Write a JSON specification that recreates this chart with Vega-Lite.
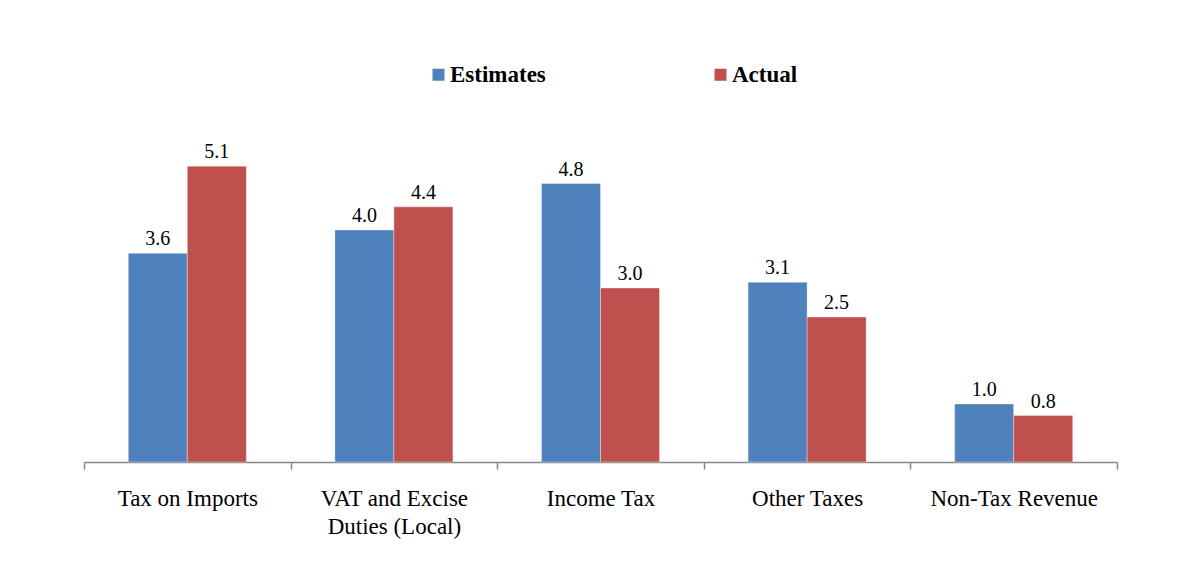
{
  "$schema": "https://vega.github.io/schema/vega-lite/v6.json",
  "width": 1033,
  "height": 348,
  "autosize": {"type": "none"},
  "padding": {"left": 84, "top": 114, "right": 78, "bottom": 117},
  "background": "white",
  "config": {"view": {"stroke": null}},
  "data": {
    "values": [
      {"category": "Tax on Imports", "series": "Estimates", "value": 3.6},
      {"category": "Tax on Imports", "series": "Actual", "value": 5.1},
      {"category": "VAT and Excise Duties (Local)", "series": "Estimates", "value": 4.0},
      {"category": "VAT and Excise Duties (Local)", "series": "Actual", "value": 4.4},
      {"category": "Income Tax", "series": "Estimates", "value": 4.8},
      {"category": "Income Tax", "series": "Actual", "value": 3.0},
      {"category": "Other Taxes", "series": "Estimates", "value": 3.1},
      {"category": "Other Taxes", "series": "Actual", "value": 2.5},
      {"category": "Non-Tax Revenue", "series": "Estimates", "value": 1.0},
      {"category": "Non-Tax Revenue", "series": "Actual", "value": 0.8}
    ]
  },
  "encoding": {
    "x": {
      "field": "category",
      "type": "nominal",
      "sort": null,
      "title": null,
      "scale": {"paddingInner": 0, "paddingOuter": 0},
      "axis": {
        "labelAngle": 0,
        "labelFont": "Liberation Serif",
        "labelFontSize": 23,
        "labelColor": "black",
        "labelPadding": 18,
        "labelLineHeight": 28,
        "labelBaseline": "top",
        "labelExpr": "datum.label == 'VAT and Excise Duties (Local)' ? ['VAT and Excise', 'Duties (Local)'] : datum.label",
        "tickBand": "extent",
        "tickSize": 7,
        "tickColor": "#868686",
        "tickWidth": 1.5,
        "domainColor": "#868686",
        "domainWidth": 1.5
      }
    },
    "xOffset": {"field": "series", "type": "nominal", "sort": ["Estimates", "Actual"], "scale": {"paddingInner": 0, "paddingOuter": 0.75}},
    "y": {
      "field": "value",
      "type": "quantitative",
      "scale": {"domain": [0, 6]},
      "axis": null
    }
  },
  "layer": [
    {
      "mark": {"type": "bar", "stroke": "white", "strokeWidth": 0.6, "strokeOpacity": 0.6},
      "encoding": {
        "color": {
          "field": "series",
          "type": "nominal",
          "sort": ["Estimates", "Actual"],
          "scale": {"domain": ["Estimates", "Actual"], "range": ["#4F81BD", "#C0504D"]},
          "legend": {
            "title": null,
            "orient": "none",
            "legendX": 343,
            "legendY": -51,
            "direction": "horizontal",
            "symbolType": "square",
            "symbolSize": 144,
            "symbolStrokeWidth": 0,
            "labelFont": "Liberation Serif",
            "labelFontSize": 23,
            "labelFontWeight": "bold",
            "labelColor": "black",
            "labelOffset": 0,
            "columnPadding": 163
          }
        }
      }
    },
    {
      "mark": {"type": "text", "dy": -8, "baseline": "alphabetic", "font": "Liberation Serif", "fontSize": 20, "color": "black"},
      "encoding": {
        "text": {"field": "value", "type": "quantitative", "format": ".1f"}
      }
    }
  ]
}
